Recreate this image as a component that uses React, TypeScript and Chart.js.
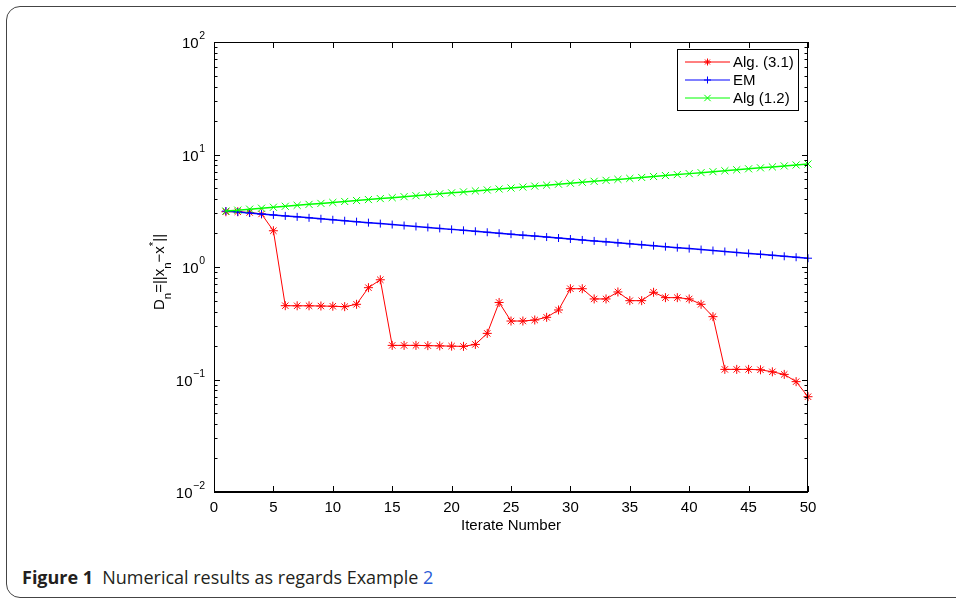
import React, { useEffect, useRef } from "react";
import { Chart, registerables } from "chart.js";

Chart.register(...registerables);

const iterations = [
  1, 2, 3, 4, 5, 6, 7, 8, 9, 10, 11, 12, 13, 14, 15, 16, 17, 18, 19, 20, 21, 22, 23, 24, 25,
  26, 27, 28, 29, 30, 31, 32, 33, 34, 35, 36, 37, 38, 39, 40, 41, 42, 43, 44, 45, 46, 47, 48, 49, 50,
];

const alg31 = [
  3.1, 3.1, 3.05, 2.96, 2.1, 0.453, 0.452, 0.452, 0.45, 0.448, 0.444, 0.466, 0.655, 0.77, 0.201,
  0.201, 0.201, 0.2, 0.199, 0.198, 0.197, 0.205, 0.257, 0.484, 0.331, 0.331, 0.338, 0.357, 0.415,
  0.641, 0.641, 0.52, 0.52, 0.6, 0.502, 0.502, 0.596, 0.534, 0.534, 0.52, 0.466, 0.362, 0.123,
  0.123, 0.123, 0.122, 0.117, 0.111, 0.0957, 0.0703,
];

const emValues = [
  3.14, 3.079, 3.019, 2.96, 2.902, 2.846, 2.79, 2.736, 2.683, 2.63, 2.579, 2.529, 2.479, 2.431,
  2.384, 2.337, 2.292, 2.247, 2.203, 2.16, 2.118, 2.077, 2.036, 1.997, 1.958, 1.92, 1.882, 1.846,
  1.81, 1.774, 1.74, 1.706, 1.673, 1.64, 1.608, 1.577, 1.546, 1.516, 1.486, 1.457, 1.429, 1.401,
  1.374, 1.347, 1.321, 1.295, 1.27, 1.245, 1.221, 1.197,
];

const alg12 = [
  3.14, 3.202, 3.266, 3.331, 3.397, 3.465, 3.533, 3.604, 3.675, 3.748, 3.823, 3.899, 3.976, 4.055,
  4.135, 4.218, 4.301, 4.387, 4.474, 4.563, 4.653, 4.746, 4.84, 4.936, 5.034, 5.134, 5.236, 5.34,
  5.446, 5.554, 5.665, 5.777, 5.892, 6.009, 6.128, 6.25, 6.374, 6.5, 6.63, 6.761, 6.896, 7.033,
  7.172, 7.315, 7.46, 7.608, 7.759, 7.913, 8.07, 8.231,
];

const seriesNames = ["Alg. (3.1)", "EM", "Alg (1.2)"];
const xTickValues = [0, 5, 10, 15, 20, 25, 30, 35, 40, 45, 50];
const xTickLabels = ["0", "5", "10", "15", "20", "25", "30", "35", "40", "45", "50"];
const yTickExponents = [-2, -1, 0, 1, 2];
const yTickExpLabels = ["\u22122", "\u22121", "0", "1", "2"];
const xAxisTitle = "Iterate Number";

const FONT = "'Liberation Sans', Arial, Helvetica, sans-serif";

function drawMarker(ctx: CanvasRenderingContext2D, style: string, x: number, y: number, r: number) {
  ctx.beginPath();
  if (style === "cross" || style === "star") {
    ctx.moveTo(x - r, y);
    ctx.lineTo(x + r, y);
    ctx.moveTo(x, y - r);
    ctx.lineTo(x, y + r);
  }
  if (style === "crossRot" || style === "star") {
    const d = r * Math.SQRT1_2;
    ctx.moveTo(x - d, y - d);
    ctx.lineTo(x + d, y + d);
    ctx.moveTo(x - d, y + d);
    ctx.lineTo(x + d, y - d);
  }
  ctx.stroke();
}

const matlabAxes = {
  id: "matlabAxes",
  afterDraw(chart: any) {
    const ctx: CanvasRenderingContext2D = chart.ctx;
    const a = chart.chartArea;
    const xs = chart.scales.x;
    const ys = chart.scales.y;
    ctx.save();
    ctx.strokeStyle = "#000";
    ctx.fillStyle = "#000";
    ctx.lineWidth = 1;

    const seg = (x1: number, y1: number, x2: number, y2: number) => {
      ctx.beginPath();
      ctx.moveTo(x1, y1);
      ctx.lineTo(x2, y2);
      ctx.stroke();
    };

    // box
    const L = Math.round(a.left) + 0.5;
    const R = Math.round(a.right) - 0.5;
    const T = Math.round(a.top) + 0.5;
    const B = Math.round(a.bottom) - 0.5;
    seg(L, T, R, T);
    seg(L, T, L, B);
    seg(R, T, R, B);
    ctx.lineWidth = 2;
    seg(a.left, Math.round(a.bottom), a.right, Math.round(a.bottom));
    ctx.lineWidth = 1;

    // x ticks (inward, bottom and top)
    xTickValues.forEach((v) => {
      const px = Math.round(xs.getPixelForValue(v)) + 0.5;
      seg(px, a.bottom, px, a.bottom - 6);
      seg(px, a.top, px, a.top + 6);
    });

    // y ticks (major + minor, left and right)
    yTickExponents.forEach((e, i) => {
      const py = Math.round(ys.getPixelForValue(Math.pow(10, e))) + 0.5;
      seg(a.left, py, a.left + 6, py);
      seg(a.right, py, a.right - 6, py);
      if (i < yTickExponents.length - 1) {
        for (let m = 2; m <= 9; m++) {
          const pm = Math.round(ys.getPixelForValue(m * Math.pow(10, e))) + 0.5;
          seg(a.left, pm, a.left + 3.5, pm);
          seg(a.right, pm, a.right - 3.5, pm);
        }
      }
    });

    // x tick labels
    ctx.font = `15px ${FONT}`;
    ctx.textAlign = "center";
    ctx.textBaseline = "alphabetic";
    xTickValues.forEach((v, i) => {
      const px = xs.getPixelForValue(v);
      ctx.fillText(xTickLabels[i], px, a.bottom + 20);
    });

    // x axis title
    ctx.fillText(xAxisTitle, (a.left + a.right) / 2, a.bottom + 38);

    // y tick labels 10^e
    const rightEdge = a.left - 9;
    yTickExponents.forEach((e, i) => {
      const py = ys.getPixelForValue(Math.pow(10, e));
      ctx.font = `10.5px ${FONT}`;
      const ew = ctx.measureText(yTickExpLabels[i]).width;
      ctx.textAlign = "left";
      ctx.fillText(yTickExpLabels[i], rightEdge - ew, py - 3);
      ctx.font = `15px ${FONT}`;
      ctx.textAlign = "right";
      ctx.fillText("10", rightEdge - ew - 0.5, py + 6);
    });

    // y axis title: D_n=||x_n - x^*||
    const parts: [string, number][] = [
      ["D", 0],
      ["n", 1],
      ["=||x", 0],
      ["n", 1],
      ["\u2212x", 0],
      ["*", 2],
      ["||", 0],
    ];
    ctx.save();
    ctx.translate(164, 272);
    ctx.rotate(-Math.PI / 2);
    let total = 0;
    const widths = parts.map(([t, k]) => {
      ctx.font = k === 0 ? `15px ${FONT}` : `11.5px ${FONT}`;
      const w = ctx.measureText(t).width;
      total += w;
      return w;
    });
    let cx = -total / 2;
    ctx.textAlign = "left";
    parts.forEach(([t, k], i) => {
      ctx.font = k === 0 ? `15px ${FONT}` : `11.5px ${FONT}`;
      const off = k === 1 ? 7 : k === 2 ? -7 : 0;
      ctx.fillText(t, cx, off);
      cx += widths[i];
    });
    ctx.restore();

    // legend
    const bx = 677.5;
    const by = 49.5;
    const bw = 121;
    const bh = 61;
    ctx.fillStyle = "#fff";
    ctx.fillRect(bx, by, bw, bh);
    ctx.strokeStyle = "#000";
    ctx.lineWidth = 1;
    ctx.strokeRect(bx, by, bw, bh);
    const ds = chart.data.datasets;
    seriesNames.forEach((name, i) => {
      const y = by + 12.5 + i * 18;
      const d = ds[i];
      ctx.strokeStyle = d.borderColor;
      ctx.lineWidth = 1;
      seg(685, y, 730, y);
      drawMarker(ctx, d.pointStyle, 707.5, y, d.pointStyle === "crossRot" ? 4.5 : 3.5);
      ctx.fillStyle = "#000";
      ctx.font = `15px ${FONT}`;
      ctx.textAlign = "left";
      ctx.textBaseline = "middle";
      ctx.fillText(name, 733, y + 1);
    });
    ctx.restore();
  },
};

export default function App() {
  const canvasRef = useRef<HTMLCanvasElement | null>(null);

  useEffect(() => {
    if (!canvasRef.current) return;
    const mk = (vals: number[]) => iterations.map((x, i) => ({ x, y: vals[i] }));
    const chart = new Chart(canvasRef.current, {
      type: "line",
      data: {
        datasets: [
          {
            label: seriesNames[0],
            data: mk(alg31),
            borderColor: "#ff0000",
            backgroundColor: "#ff0000",
            borderWidth: 1,
            pointStyle: "star",
            pointRadius: 4.5,
            pointBorderWidth: 1,
            pointBorderColor: "#ff0000",
            pointHoverRadius: 4.5,
            tension: 0,
            clip: false,
            order: 3,
          },
          {
            label: seriesNames[1],
            data: mk(emValues),
            borderColor: "#0000ff",
            backgroundColor: "#0000ff",
            borderWidth: 1.5,
            pointStyle: "cross",
            pointRadius: 4,
            pointBorderWidth: 1,
            pointBorderColor: "#0000ff",
            pointHoverRadius: 4,
            tension: 0,
            clip: false,
            order: 2,
          },
          {
            label: seriesNames[2],
            data: mk(alg12),
            borderColor: "#00ff00",
            backgroundColor: "#00ff00",
            borderWidth: 1.5,
            pointStyle: "crossRot",
            pointRadius: 5,
            pointBorderWidth: 1,
            pointBorderColor: "#00ff00",
            pointHoverRadius: 5,
            tension: 0,
            clip: false,
            order: 1,
          },
        ] as any,
      },
      options: {
        animation: false,
        responsive: false,
        devicePixelRatio: 1,
        events: [],
        layout: { padding: { left: 0, right: 148, top: 42, bottom: 0 } },
        plugins: { legend: { display: false }, tooltip: { enabled: false } },
        scales: {
          x: {
            type: "linear",
            min: 0,
            max: 50,
            ticks: { display: false, stepSize: 5 },
            grid: { display: false, drawTicks: false },
            border: { display: false },
            afterFit: (s: any) => {
              s.height = 68;
            },
          },
          y: {
            type: "logarithmic",
            min: 0.01,
            max: 100,
            ticks: { display: false },
            grid: { display: false, drawTicks: false },
            border: { display: false },
            afterFit: (s: any) => {
              s.width = 214;
            },
          },
        },
      } as any,
      plugins: [matlabAxes],
    });
    return () => chart.destroy();
  }, []);

  return (
    <div
      style={{
        position: "fixed",
        left: 0,
        top: 0,
        width: 956,
        height: 600,
        overflow: "hidden",
        background: "#fff",
      }}
    >
      <div
        style={{
          position: "absolute",
          left: 6,
          top: 6,
          width: 1000,
          height: 592,
          border: "1.5px solid #444",
          borderRadius: 14,
          boxSizing: "border-box",
        }}
      />
      <canvas
        ref={canvasRef}
        width={956}
        height={560}
        style={{ position: "absolute", left: 0, top: 0, width: 956, height: 560 }}
      />
      <div
        style={{
          position: "absolute",
          left: 22,
          top: 564,
          fontFamily: "'Open Sans', 'Noto Sans', sans-serif",
          fontSize: 18,
          color: "#231f20",
          whiteSpace: "nowrap",
          lineHeight: "26px",
        }}
      >
        <span style={{ fontWeight: 700 }}>Figure 1</span>
        <span>{"\u2002Numerical results as regards Example "}</span>
        <span style={{ color: "#2a5bd7" }}>2</span>
      </div>
    </div>
  );
}
